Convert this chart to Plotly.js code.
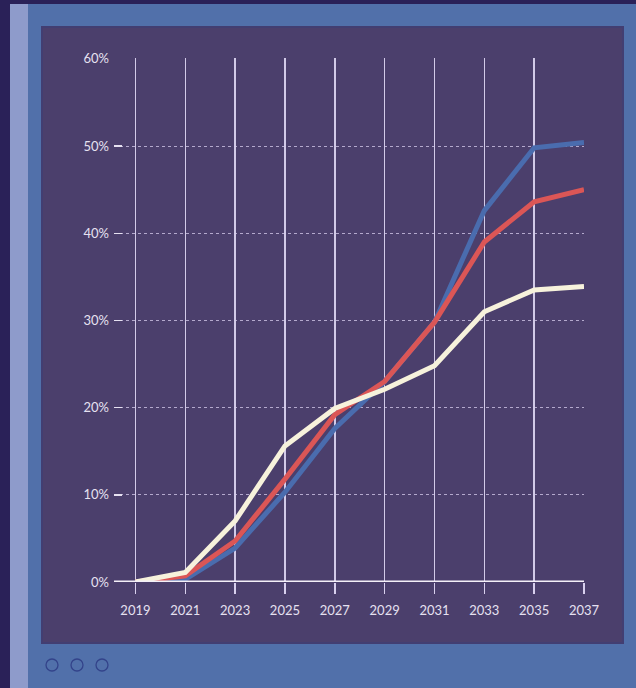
<!DOCTYPE html>
<html>
<head>
<meta charset="utf-8">
<script src="https://cdn.plot.ly/plotly-3.0.1.min.js"></script>
<style>
html,body{margin:0;padding:0;background:#2a2158;overflow:hidden;}
#chart{width:636px;height:688px;}
</style>
</head>
<body>
<div id="chart"></div>
<script>
// ---- data ----
const years = [2019, 2021, 2023, 2025, 2027, 2029, 2031, 2033, 2035, 2037];
const seriesBlue  = [0, 0.3, 3.9, 10.3, 17.6, 23.0, 29.8, 42.6, 49.8, 50.4];
const seriesRed   = [0, 0.7, 4.7, 11.8, 19.2, 23.0, 29.8, 39.0, 43.6, 45.0];
const seriesCream = [0, 1.1, 7.0, 15.6, 19.9, 22.1, 24.8, 31.0, 33.5, 33.9];
const yTicks = [0, 10, 20, 30, 40, 50, 60];

// ---- layout geometry (pixels) ----
const W = 636, H = 688;
const L = 114, R = 584, T = 58, B = 582;
const px = p => (p - L) / (R - L);
const py = q => (B - q) / (B - T);

function rect(x0, y0, x1, y1, fill, line) {
  return {type: 'rect', xref: 'paper', yref: 'paper', layer: 'below',
    x0: px(x0), x1: px(x1), y0: py(y1), y1: py(y0),
    fillcolor: fill, line: line || {width: 0}};
}
function circ(cx, cy, r) {
  return {type: 'circle', xref: 'paper', yref: 'paper', layer: 'above',
    x0: px(cx - r), x1: px(cx + r), y0: py(cy + r), y1: py(cy - r),
    fillcolor: 'rgba(0,0,0,0)', line: {color: '#33438a', width: 1.3}};
}

const shapes = [
  rect(10, 4, 28, H, '#8e9bcb'),
  rect(28, 4, W, H, '#5170aa'),
  rect(42, 27, 623, 643, '#4b3f6c', {color: '#423e72', width: 2}),
  circ(52, 665, 6), circ(77, 665, 6), circ(102, 665, 6)
];

const lineW = 5;
const traces = [
  {x: years, y: seriesBlue, name: 'Blue', mode: 'lines', line: {color: '#4a6cae', width: lineW}},
  {x: years, y: seriesRed, name: 'Red', mode: 'lines', line: {color: '#db5656', width: lineW}},
  {x: years, y: seriesCream, name: 'Cream', mode: 'lines', line: {color: '#f7f2dc', width: lineW}}
];

const fontFam = 'Lato, "Open Sans", sans-serif';
const layout = {
  width: W, height: H,
  margin: {l: L, r: W - R, t: T, b: H - B, pad: 0},
  paper_bgcolor: '#2a2158',
  plot_bgcolor: 'rgba(0,0,0,0)',
  showlegend: false,
  font: {family: fontFam, color: '#e6e1f1', size: 13},
  xaxis: {
    range: [2018.14, 2037],
    tickvals: years, ticktext: years.map(String),
    showgrid: true, gridcolor: '#d2cae8', gridwidth: 1.5,
    ticks: 'outside', ticklen: 11, tickwidth: 1.5, tickcolor: '#d8d0ee',
    ticklabelstandoff: 5,
    zeroline: false, showline: false,
    tickfont: {family: fontFam, size: 13, color: '#e6e1f1'},
    fixedrange: true
  },
  yaxis: {
    range: [0, 60.1],
    tickvals: yTicks, ticktext: yTicks.map(v => v + '%'),
    showgrid: true, gridcolor: 'rgba(215,205,238,0.75)', gridwidth: 1, griddash: 'dot',
    ticks: 'inside', ticklen: 8, tickwidth: 1.5, tickcolor: '#e6e1f1',
    ticklabelstandoff: 4,
    zeroline: false, showline: false,
    tickfont: {family: fontFam, size: 13, color: '#e6e1f1'},
    fixedrange: true
  },
  shapes: shapes.concat([
    {type: 'line', xref: 'paper', yref: 'y', x0: 0, x1: 1, y0: 0, y1: 0,
     line: {color: '#f4f0f8', width: 3}, layer: 'above'}
  ])
};

Plotly.newPlot('chart', traces, layout, {displayModeBar: false, staticPlot: true});
</script>
</body>
</html>
